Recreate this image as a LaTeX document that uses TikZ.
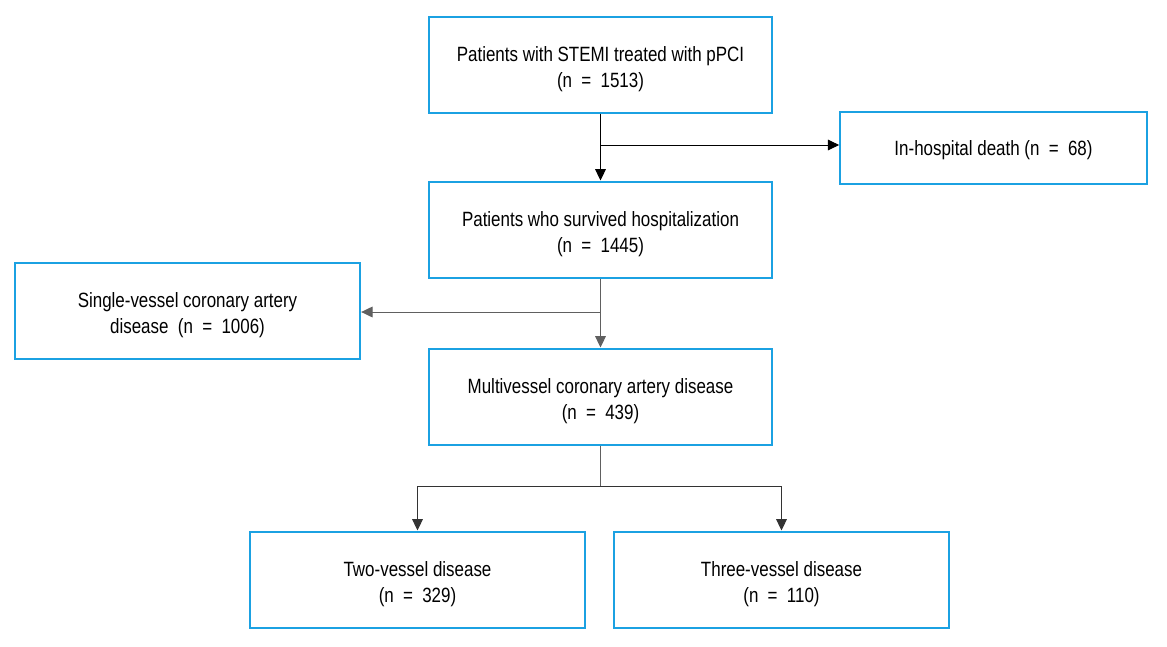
\documentclass[tikz,border=0pt]{standalone}
\usepackage{fontspec}
\setmainfont{Liberation Sans}[FakeStretch=0.82]
\usetikzlibrary{arrows.meta}
\definecolor{boxblue}{HTML}{1BA1E2}
\definecolor{lngray}{HTML}{606060}
\newcommand{\eqs}{\hspace{0.45em}=\hspace{0.45em}}
\newcommand{\topstrut}{\rule{0pt}{17.5pt}}
\tikzset{
  x=0.75pt, y=-0.75pt,
  flowbox/.style={draw=boxblue, line width=1.5pt, fill=white, align=center,
    inner sep=2pt, font=\fontsize{15.5}{19.5}\selectfont, text=black},
  arr/.style={-{Triangle[length=8.5pt,width=8pt]}, line width=0.75pt},
}
\begin{document}
\begin{tikzpicture}
\useasboundingbox (0,0) rectangle (1167,646);
\node[flowbox, minimum width=257pt, minimum height=72pt] (top) at (600.5,64.5)
  {\topstrut Patients with STEMI treated with pPCI\\(n\eqs1513)};
\node[flowbox, minimum width=230pt, minimum height=54pt] (death) at (993.5,147.5)
  {\rule{0pt}{15.5pt}In-hospital death (n\eqs68)};
\node[flowbox, minimum width=257pt, minimum height=72pt] (surv) at (600.5,229.5)
  {\topstrut Patients who survived hospitalization\\(n\eqs1445)};
\node[flowbox, minimum width=259pt, minimum height=72pt] (single) at (187.5,310.5)
  {\topstrut Single-vessel coronary artery\\disease\ \ (n\eqs1006)};
\node[flowbox, minimum width=257pt, minimum height=72pt] (multi) at (600.5,396.5)
  {\topstrut Multivessel coronary artery disease\\(n\eqs439)};
\node[flowbox, minimum width=251pt, minimum height=72pt] (two) at (417.5,579.5)
  {\topstrut Two-vessel disease\\(n\eqs329)};
\node[flowbox, minimum width=251pt, minimum height=72pt] (three) at (781.5,579.5)
  {\topstrut Three-vessel disease\\(n\eqs110)};
\coordinate (b1) at (600.5,145);
\coordinate (b2) at (600.5,312);
\coordinate (b3) at (600.5,486);
\draw[arr, black] (top.south) -- (surv.north);
\draw[arr, black] (b1) -- (b1 -| death.west);
\draw[arr, lngray] (surv.south) -- (multi.north);
\draw[arr, lngray] (b2) -- (b2 -| single.east);
\draw[line width=0.75pt, lngray] (multi.south) -- (b3);
\draw[arr, black!80] (b3) -| (two.north);
\draw[arr, black!80] (b3) -| (three.north);
\end{tikzpicture}
\end{document}
